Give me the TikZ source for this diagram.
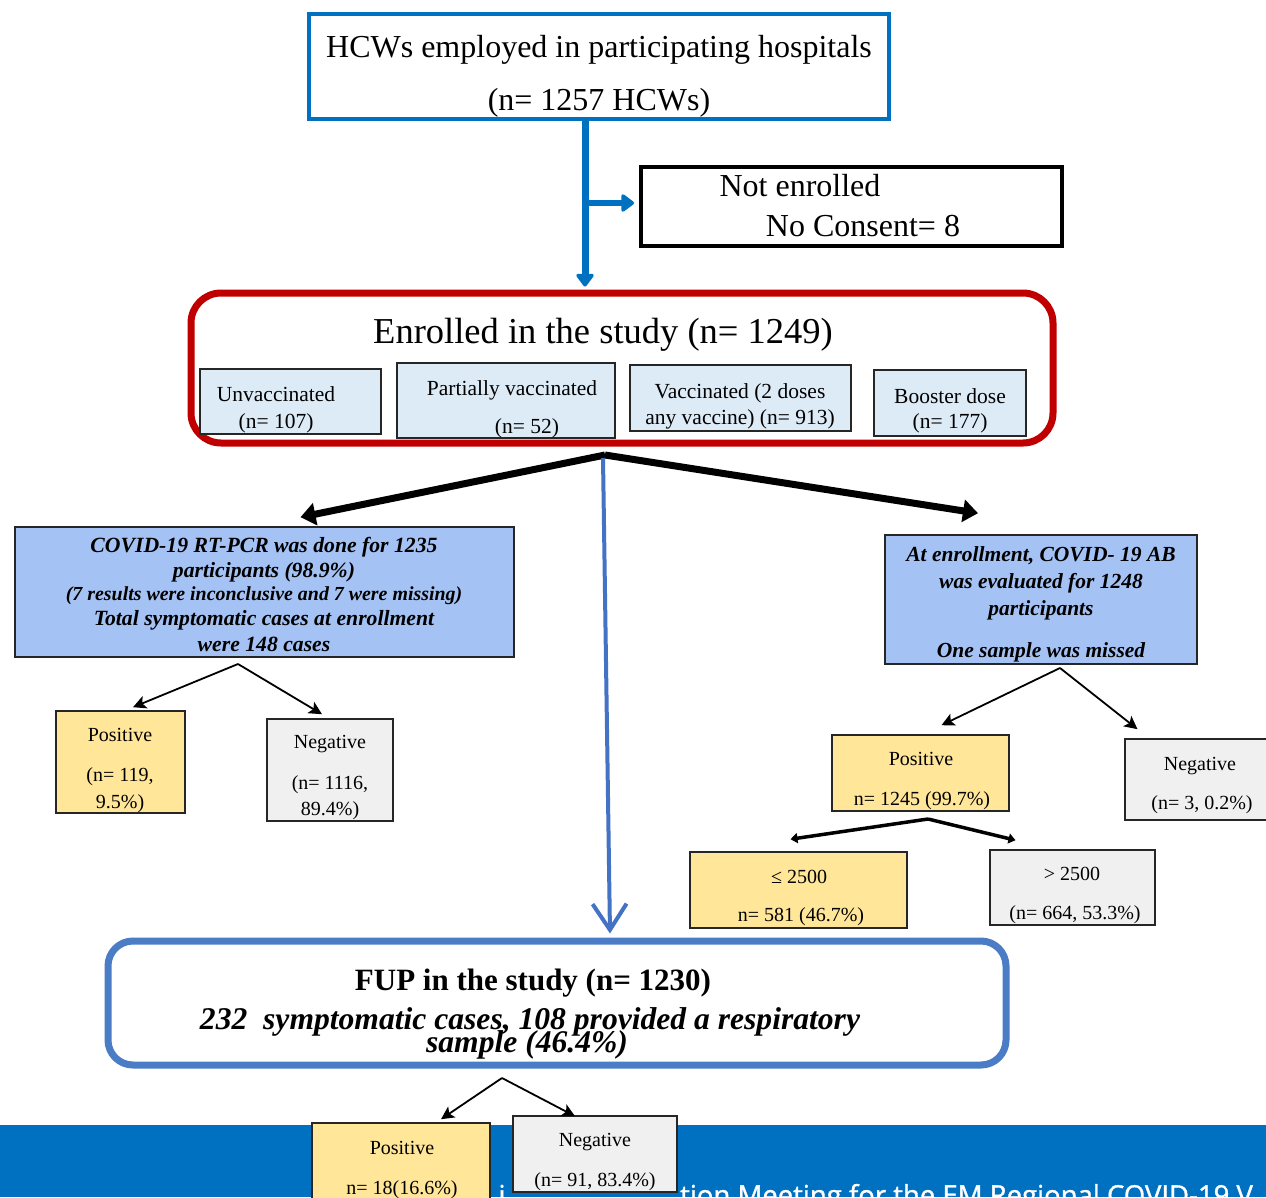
\documentclass[tikz,border=0pt]{standalone}
\usepackage{fontspec}
\setmainfont{Liberation Serif}
\newfontfamily\footfont{Open Sans}[FakeBold=1.2]
\usetikzlibrary{arrows.meta,calc}
\definecolor{topblue}{HTML}{0070C0}
\definecolor{encred}{HTML}{C00000}
\definecolor{subfill}{HTML}{DDEBF7}
\definecolor{covfill}{HTML}{A4C2F4}
\definecolor{posfill}{HTML}{FFE699}
\definecolor{negfill}{HTML}{F0F0F0}
\definecolor{fupblue}{HTML}{4A7DC6}
\definecolor{midblue}{HTML}{4472C4}
\tikzset{
  t/.style={inner sep=0pt, anchor=base},
  box/.style={draw=black!85, line width=1.6pt, inner sep=0pt},
  subbox/.style={box, fill=subfill},
  covbox/.style={box, fill=covfill},
  posbox/.style={box, fill=posfill},
  negbox/.style={box, fill=negfill},
  fa/.style={font=\fontsize{32}{38}\selectfont},
  fb/.style={font=\fontsize{21.5}{25}\selectfont},
  fc/.style={font=\fontsize{21.7}{25}\selectfont\bfseries\itshape},
  fr/.style={font=\fontsize{21.5}{25}\selectfont\bfseries\itshape},
  fd/.style={font=\fontsize{20}{24}\selectfont},
  thinarr/.style={line width=1.8pt, -{Stealth[length=13pt,width=13pt,inset=3pt]}},
  thickarr/.style={line width=7pt, -{Triangle[length=15pt,width=22pt]}},
  midarr/.style={line width=3.5pt, -{Triangle[length=7pt,width=10pt]}},
  bluearr/.style={topblue, line width=7pt, -{Triangle[length=14pt,width=20pt,round]}}
}
\begin{document}
\begin{tikzpicture}[x=1pt,y=-1pt]
\path[use as bounding box] (0,0) rectangle (1266,1197);
\clip (0,0) rectangle (1266,1197);
\fill[white] (0,0) rectangle (1266,1197);
% footer band
\fill[topblue] (0,1125) rectangle (1266,1197);
\node[t, text=white, font=\fontsize{27.5}{32}\footfont] (ft1) at (502,1205) {i};
\node[t, text=white, font=\fontsize{27.5}{32}\footfont, anchor=base west] (ft2) at (680,1205) {tion Meeting for the EM Regional COVID-19 V};

% top box
\node[draw=topblue, line width=4pt, minimum width=580pt, minimum height=105pt, inner sep=0pt] (top) at (599,66.5) {};
\node[t, fa] (top1) at (599,57.5) {HCWs employed in participating hospitals};
\node[t, fa] (top2) at (599,110) {(n= 1257 HCWs)};

% not enrolled
\node[draw=black, line width=4pt, minimum width=421pt, minimum height=79pt, inner sep=0pt] (notenr) at (851.5,206.5) {};
\node[t, fa] (ne1) at (800,196.5) {Not enrolled};
\node[t, fa] (ne2) at (863,236.5) {No Consent= 8};

% enrolled box
\node[draw=encred, line width=7pt, rounded corners=30pt, minimum width=862pt, minimum height=150pt, inner sep=0pt] (enr) at (622,368) {};
\node[t, font=\fontsize{36.5}{42}\selectfont] (enr1) at (603,343) {Enrolled in the study (n= 1249)};
\node[subbox, minimum width=181pt, minimum height=65pt] (unv) at (290.5,401.5) {};
\node[subbox, minimum width=218pt, minimum height=75pt] (par) at (506,400.5) {};
\node[subbox, minimum width=221pt, minimum height=66pt] (vac) at (740.5,398) {};
\node[subbox, minimum width=152pt, minimum height=66pt] (boo) at (950,403) {};
\node[t, fb] (unv1) at (276,401) {Unvaccinated};
\node[t, fb] (unv2) at (276,428) {(n= 107)};
\node[t, fb] (par1) at (512,395) {Partially vaccinated};
\node[t, fb] (par2) at (527,433) {(n= 52)};
\node[t, fb] (vac1) at (740,398) {Vaccinated (2 doses};
\node[t, fb] (vac2) at (740,424) {any vaccine) (n= 913)};
\node[t, fb] (boo1) at (950,403) {Booster dose};
\node[t, fb] (boo2) at (950,428) {(n= 177)};

% blue arrows from top
\coordinate (tsrc) at ($(top.south)+(-14,-4)$);
\coordinate (br) at (585,203);
\draw[bluearr] (tsrc) -- ($(enr.north)+(-37,-3)$);
\draw[bluearr, line width=6pt] (br) -- ($(br -| notenr.west)+(-5,0)$);

% left covid box
\node[covbox, minimum width=499pt, minimum height=130pt] (lcov) at (264.5,592) {};
\node[t, fc] (lc1) at (264,552) {COVID-19 RT-PCR was done for 1235};
\node[t, fc] (lc2) at (264,577) {participants (98.9\%)};
\node[t, font=\fontsize{19.9}{24}\selectfont\bfseries\itshape] (lc3) at (264,600) {(7 results were inconclusive and 7 were missing)};
\node[t, fc] (lc4) at (264,625) {Total symptomatic cases at enrollment};
\node[t, fc] (lc5) at (264,651) {were 148 cases};

% right AB box
\node[covbox, minimum width=312pt, minimum height=129pt] (rab) at (1041,599.5) {};
\node[t, fr] (ra1) at (1041,561) {At enrollment, COVID- 19 AB};
\node[t, fr] (ra2) at (1041,588) {was evaluated for 1248};
\node[t, fr] (ra3) at (1041,615) {participants};
\node[t, fr] (ra4) at (1041,657) {One sample was missed};

% thick black arrows
\coordinate (tsplit) at (605,455);
\draw[thickarr] (tsplit) -- ($(lcov.north)+(36,-9)$);
\draw[thickarr] (tsplit) -- ($(rab.north)+(-63,-21)$);

% FUP box
\node[draw=fupblue, line width=7pt, rounded corners=25pt, minimum width=898pt, minimum height=124pt, inner sep=0pt] (fup) at (557,1003) {};
\node[t, font=\fontsize{31}{36}\selectfont\bfseries] (fup1) at (533,990) {FUP in the study (n= 1230)};
\node[t, font=\fontsize{31.6}{34}\selectfont\bfseries\itshape] (fup2) at (530,1029) {232\ \ symptomatic cases, 108 provided a respiratory};
\node[t, font=\fontsize{31.6}{34}\selectfont\bfseries\itshape] (fup3) at (527,1052) {sample (46.4\%)};

% central blue line
\coordinate (csrc) at (603,458);
\draw[midblue, line width=4pt, -{Straight Barb[length=26pt,width=34pt]}] (csrc) -- ($(fup.north)+(53,-4)$);

% left pos / neg
\node[posbox, minimum width=129pt, minimum height=102pt] (lpos) at (120.5,762) {};
\node[negbox, minimum width=126pt, minimum height=102pt] (lneg) at (330,770) {};
\node[t, fd] (lp1) at (120,741) {Positive};
\node[t, fd] (lp2) at (120,781) {(n= 119,};
\node[t, fd] (lp3) at (120,808) {9.5\%)};
\node[t, fd] (ln1) at (330,748) {Negative};
\node[t, fd] (ln2) at (330,789) {(n= 1116,};
\node[t, fd] (ln3) at (330,815) {89.4\%)};
\coordinate (lsplit) at (238,664);
\draw[thinarr] (lsplit) -- ($(lpos.north)+(12.5,-3)$);
\draw[thinarr] (lsplit) -- ($(lneg.north)+(-8,-4)$);

% right pos / neg
\node[posbox, minimum width=177pt, minimum height=76pt] (rpos) at (920.5,773) {};
\node[negbox, minimum width=147pt, minimum height=81pt] (rneg) at (1198.5,779.5) {};
\node[t, fd] (rp1) at (921,765) {Positive};
\node[t, fd] (rp2) at (922,805) {n= 1245 (99.7\%)};
\node[t, fd] (rn1) at (1200,770) {Negative};
\node[t, fd] (rn2) at (1202,809) {(n= 3, 0.2\%)};
\coordinate (rsplit) at (1060,668);
\draw[thinarr] (rsplit) -- ($(rpos.north)+(21,-9)$);
\draw[thinarr] (rsplit) -- ($(rneg.north)+(-61,-9)$);

% thresholds
\node[posbox, minimum width=217pt, minimum height=76pt] (le) at (798.5,890) {};
\node[negbox, minimum width=165pt, minimum height=75pt] (gt) at (1072.5,887.5) {};
\node[t, fd] (le1) at (799,883) {≤ 2500};
\node[t, fd] (le2) at (801,921) {n= 581 (46.7\%)};
\node[t, fd] (gt1) at (1072,880) {> 2500};
\node[t, fd] (gt2) at (1075,919) {(n= 664, 53.3\%)};
\coordinate (psplit) at (928,819);
\draw[midarr] (psplit) -- ($(le.north)+(-8,-12)$);
\draw[midarr] (psplit) -- ($(gt.north)+(-57,-9)$);

% bottom pos / neg
\node[posbox, minimum width=178pt, minimum height=82pt] (bpos) at (401,1164) {};
\node[negbox, minimum width=164pt, minimum height=76pt] (bneg) at (595,1154) {};
\node[t, fd] (bp1) at (402,1154) {Positive};
\node[t, fd] (bp2) at (402,1194) {n= 18(16.6\%)};
\node[t, fd] (bn1) at (595,1146) {Negative};
\node[t, fd] (bn2) at (595,1186) {(n= 91, 83.4\%)};
\coordinate (bsplit) at (502,1078);
\draw[thinarr] (bsplit) -- ($(bpos.north)+(40,-3)$);
\draw[thinarr] (bsplit) -- ($(bneg.north)+(-20,1)$);
\end{tikzpicture}
\end{document}
